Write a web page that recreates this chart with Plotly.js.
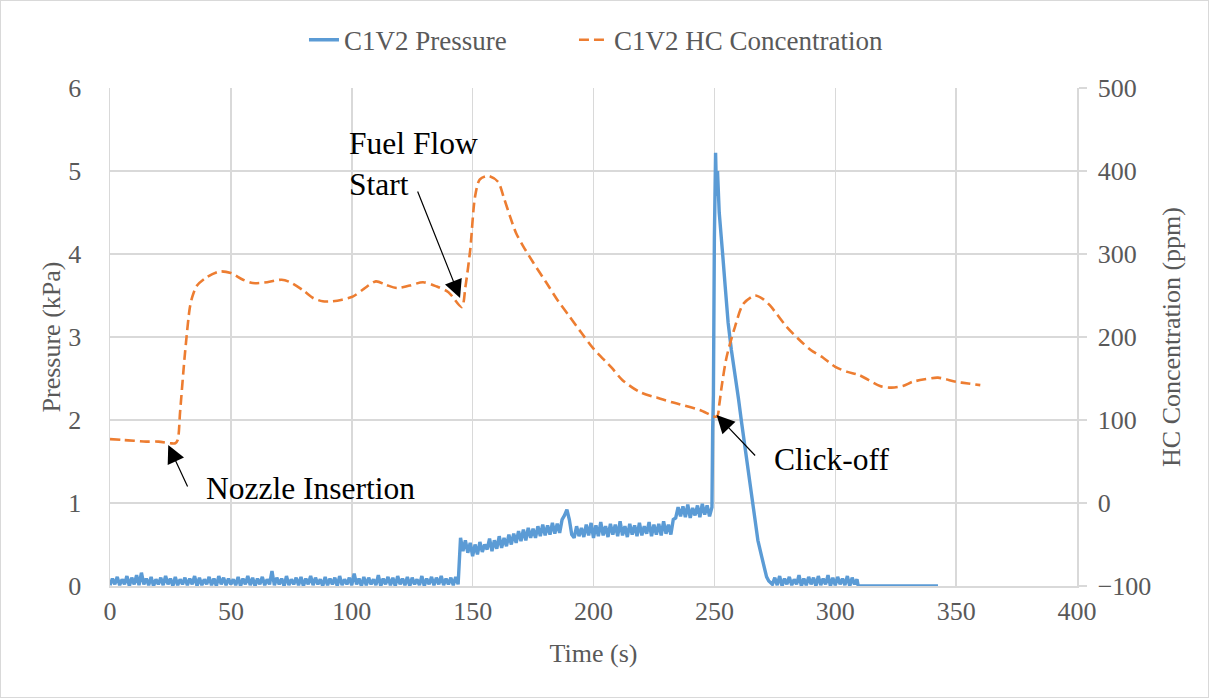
<!DOCTYPE html>
<html>
<head>
<meta charset="utf-8">
<script src="https://cdn.plot.ly/plotly-3.0.1.min.js"></script>
<style>
html,body{margin:0;padding:0;background:#fff;}
#chart{width:1209px;height:698px;box-sizing:border-box;border:1px solid #D9D9D9;}
</style>
</head>
<body>
<div id="chart"></div>
<script>
// Pressure series (kPa) vs time (s)
const pressureTime = [
0,1,2,3,4,5,6,7,8,9,10,11,12,13,14,15,16,17,18,19,20,21,22,23,24,25,26,27,28,29,30,31,32,33,34,35,36,37,38,39,
40,41,42,43,44,45,46,47,48,49,50,51,52,53,54,55,56,57,58,59,60,61,62,63,64,65,66,67,68,69,70,71,72,73,74,75,76,77,78,79,
80,81,82,83,84,85,86,87,88,89,90,91,92,93,94,95,96,97,98,99,100,101,102,103,104,105,106,107,108,109,110,111,112,113,114,115,116,117,118,119,
120,121,122,123,124,125,126,127,128,129,130,131,132,133,134,135,136,137,138,139,140,141,142,143,144,
145,146,147,148,149,150,151,152,153,154,155,156,157,158,159,160,161,162,163,164,165,166,167,168,169,170,171,172,173,174,175,
176,177,178,179,180,181,182,183,184,185,186,187,188,189,190,191,192,193,194,195,196,197,198,199,200,201,202,203,204,205,
206,207,208,209,210,211,212,213,214,215,216,217,218,219,220,221,222,223,224,225,226,227,228,229,230,231,232,233,234,235,
236,237,238,239,240,241,242,243,244,245,246,247,248,249,
249.3,249.6,250.0,250.5,250.9,251.3,252,253,253.5,254.5,255.7,257,258.5,260,261.3,262.5,264,265.5,266.8,268,269.6,270.5,271.6,272.5,273.7,
274,275,276,277,278,279,280,281,282,283,284,285,286,287,288,289,290,291,292,293,294,295,296,297,298,299,300,301,302,303,304,305,306,307,308,309,
309.5,342.5
];
const pressureValues = [
0.01,0.09,0.02,0.11,0.01,0.08,0.02,0.12,0.00,0.10,
0.02,0.13,0.01,0.16,0.02,0.09,0.01,0.11,0.00,0.08,
0.02,0.10,0.01,0.12,0.02,0.09,0.00,0.11,0.01,0.08,
0.02,0.10,0.01,0.09,0.02,0.12,0.00,0.10,0.01,0.08,
0.02,0.11,0.01,0.09,0.00,0.12,0.02,0.10,0.01,0.09,
0.02,0.08,0.01,0.11,0.00,0.09,0.02,0.12,0.01,0.10,
0.00,0.09,0.02,0.11,0.01,0.08,0.02,0.18,0.01,0.10,
0.02,0.09,0.00,0.12,0.01,0.08,0.02,0.10,0.01,0.11,
0.00,0.09,0.02,0.12,0.01,0.10,0.02,0.08,0.00,0.11,
0.01,0.09,0.02,0.10,0.00,0.12,0.01,0.08,0.02,0.10,
0.01,0.15,0.02,0.09,0.00,0.11,0.01,0.10,0.02,0.08,
0.01,0.13,0.00,0.09,0.02,0.11,0.01,0.10,0.00,0.12,
0.02,0.09,0.01,0.11,0.00,0.10,0.02,0.08,0.01,0.12,
0.00,0.09,0.02,0.11,0.01,0.10,0.02,0.12,0.01,0.09,
0.02,0.10,0.01,0.11,0.02,
0.58,
0.42,0.55,0.40,0.52,0.36,0.50,0.38,0.53,0.41,0.50,
0.44,0.57,0.42,0.55,0.45,0.60,0.46,0.58,0.48,0.62,
0.50,0.63,0.52,0.66,0.54,0.68,0.55,0.70,0.58,0.69,
0.58,0.72,0.60,0.74,0.61,0.73,0.62,0.76,0.63,0.75,
0.64,0.80,0.85,0.92,0.80,0.62,0.58,0.72,0.60,0.70,
0.59,0.74,0.61,0.76,0.58,0.73,0.60,0.77,0.61,0.72,
0.59,0.75,0.62,0.74,0.60,0.78,0.61,0.72,0.59,0.75,
0.62,0.73,0.60,0.76,0.61,0.72,0.63,0.77,0.60,0.74,
0.62,0.75,0.61,0.78,0.63,0.74,0.62,0.80,0.82,0.95,
0.84,0.96,0.83,0.98,0.82,0.94,0.85,0.97,0.83,0.99,
0.86,0.97,0.84,0.95,
1.9,2.3,4.2,5.22,4.7,5.0,4.5,4.2,3.97,3.6,3.17,2.85,2.57,2.25,1.96,1.7,1.36,1.05,0.76,0.55,0.35,0.22,0.11,0.06,0.03,
0.02,0.10,0.01,0.12,0.00,0.09,0.02,0.11,0.01,0.08,
0.02,0.13,0.00,0.09,0.01,0.11,0.02,0.10,0.00,0.12,
0.01,0.09,0.02,0.13,0.00,0.10,0.01,0.11,0.02,0.09,
0.01,0.12,0.00,0.10,0.02,0.08,
0.0,0.0
];

// HC concentration series (ppm) vs time (s)
const hcTime = [0,5,10,15,20,25,27,28,29,31,33,34,36,40,45.5,50,55,59,65,71,74.5,80,84,88,92,96,100.6,105,110,114,118.6,124,129.5,135,140,145.5,147,149,151,153,156.5,160.5,163,165.5,168,171,175,180.6,185,190,195,200,207.5,212,219,226,233,244,251,252,253,255,258.5,262,266.8,270,273,280,285,290,295,300,305,310,318.5,323.3,328,332,337,342.5,350,355,360];
const hcValues = [77,76,75,74,74,72,72,76,110,180,235,248,262,272,279,277,269,265,266,269,266,256,247,243,243,245,249,258,267,263,259,262,266,261,254,236,260,305,369,390,394,387,367,345,325,309,290,265,245,225,205,186,163,148,134,127,121,112,104,118,140,175,212,240,250,246,238,212,197,184,175,164,158,154,141,139,141,146,149,151,146,144,142];

const seriesNames = ['C1V2 Pressure', 'C1V2 HC Concentration'];
const xTitle = 'Time (s)';
const yTitle = 'Pressure (kPa)';
const y2Title = 'HC Concentration (ppm)';

const FONT = "'Liberation Serif', 'Times New Roman', serif";
const GREY = '#595959';
const GRID = '#D9D9D9';

const traces = [
  {x: pressureTime, y: pressureValues, name: seriesNames[0], type: 'scatter', mode: 'lines',
   line: {color: '#5B9BD5', width: 3.4}, yaxis: 'y', legend: 'legend'},
  {x: hcTime, y: hcValues, name: seriesNames[1], type: 'scatter', mode: 'lines',
   line: {color: '#ED7D31', width: 2.6, dash: '10px,5px', shape: 'spline', smoothing: 0.8}, yaxis: 'y2', legend: 'legend2'}
];

const arrowStyle = {showarrow: true, arrowhead: 2, arrowsize: 3, arrowwidth: 1.2, arrowcolor: '#000', standoff: 0, text: ''};
const annFont = {family: FONT, size: 31.5, color: '#000'};
const legFont = {family: FONT, size: 27, color: GREY};

const layout = {
  width: 1207, height: 696,
  margin: {l: 109, r: 131, t: 87, b: 111, pad: 0},
  paper_bgcolor: '#fff', plot_bgcolor: '#fff',
  font: {family: FONT, size: 26, color: GREY},
  showlegend: true,
  legend: {orientation: 'h', x: 0.2006, xanchor: 'left', y: 1.096, yanchor: 'middle', font: legFont},
  legend2: {orientation: 'h', x: 0.4798, xanchor: 'left', y: 1.096, yanchor: 'middle', font: legFont},
  xaxis: {range: [0, 400], dtick: 50, tick0: 0, showgrid: true, gridcolor: GRID, gridwidth: 1.5,
          zeroline: false, showline: true, linecolor: GRID, linewidth: 1.5, ticks: '',
          tickfont: {family: FONT, size: 26, color: GREY}, ticklabelstandoff: 1,
          title: {text: xTitle, font: {family: FONT, size: 26, color: GREY}, standoff: 19}},
  yaxis: {range: [0, 6], dtick: 1, tick0: 0, showgrid: true, gridcolor: GRID, gridwidth: 1.5,
          zeroline: false, showline: true, linecolor: GRID, linewidth: 1.5, ticks: '',
          tickfont: {family: FONT, size: 26, color: GREY}, ticklabelstandoff: 22,
          title: {text: yTitle, font: {family: FONT, size: 26, color: GREY}, standoff: 0}},
  yaxis2: {range: [-100, 500], dtick: 100, tick0: -100, overlaying: 'y', side: 'right', showgrid: false,
           zeroline: false, showline: true, linecolor: GRID, linewidth: 1.5, ticks: 'outside', ticklen: 8,
           tickcolor: GRID, tickwidth: 1.5,
           tickfont: {family: FONT, size: 26, color: GREY}, ticklabelstandoff: 6,
           title: {text: y2Title, font: {family: FONT, size: 26, color: GREY}, standoff: 11}},
  annotations: [
    Object.assign({x: 24.1, y: 70, xref: 'x', yref: 'y2', ax: 20, ay: 43}, arrowStyle),
    Object.assign({x: 144.8, y: 247, xref: 'x', yref: 'y2', ax: -43, ay: -108}, arrowStyle),
    Object.assign({x: 250.9, y: 106, xref: 'x', yref: 'y2', ax: 40, ay: 42}, arrowStyle),
    {x: 38.9, y: 1.17, xref: 'x', yref: 'y', text: 'Nozzle Insertion', showarrow: false,
     xanchor: 'left', yanchor: 'middle', font: annFont},
    {x: 98, y: 5.08, xref: 'x', yref: 'y', text: 'Fuel Flow<br>Start', showarrow: false,
     xanchor: 'left', yanchor: 'middle', align: 'left', font: annFont},
    {x: 273.8, y: 1.53, xref: 'x', yref: 'y', text: 'Click-off', showarrow: false,
     xanchor: 'left', yanchor: 'middle', font: annFont}
  ]
};

Plotly.newPlot('chart', traces, layout, {displayModeBar: false, staticPlot: true});
</script>
</body>
</html>
